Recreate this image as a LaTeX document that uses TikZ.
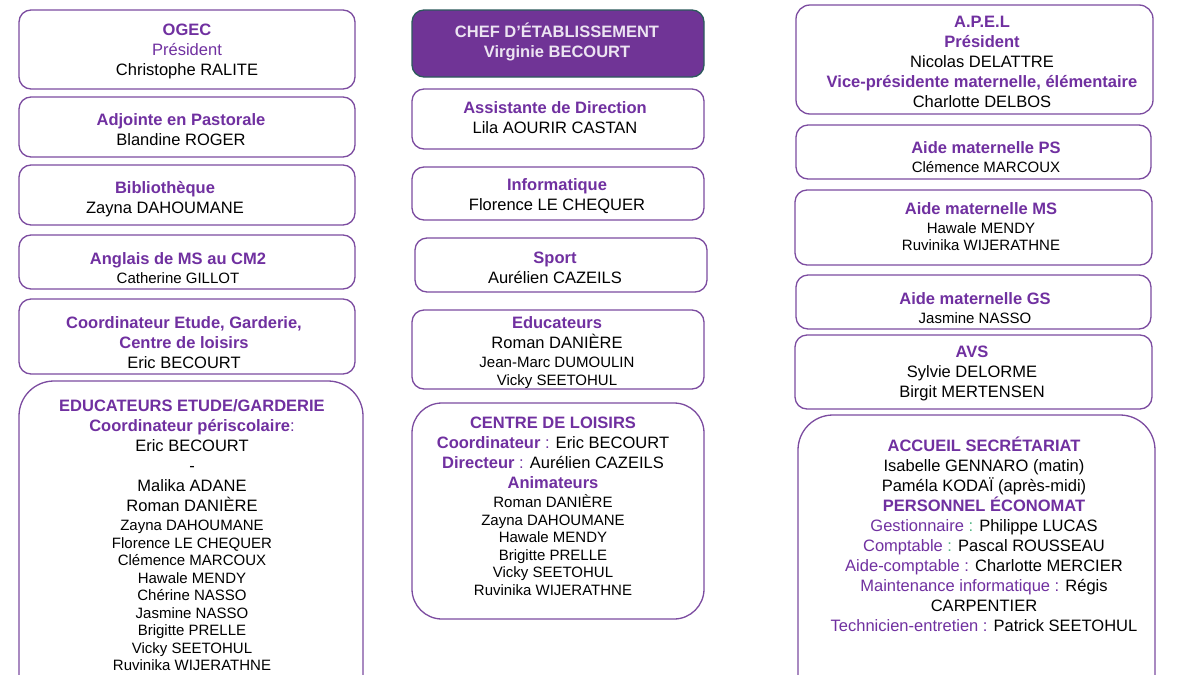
\documentclass[tikz,border=0pt]{standalone}
\usepackage{fontspec}
\setmainfont{Liberation Sans}
\usepackage{tikz}
\definecolor{violetorg}{RGB}{112,48,160}
\definecolor{bordviolet}{RGB}{124,76,160}
\definecolor{fondchef}{RGB}{112,52,150}
\definecolor{bordchef}{RGB}{44,90,92}
\definecolor{textechef}{RGB}{236,228,242}
\definecolor{vertpoint}{RGB}{80,180,130}
\tikzset{% styles of the chart
    cadre/.style={draw=bordviolet, line width=1.3pt, rounded corners=12pt},
    grandcadre/.style={draw=bordviolet, line width=1.3pt, rounded corners=35pt},
    texte/.style={align=center, inner sep=0pt, yshift=-1.5pt, font=\fontsize{16.5}{20}\selectfont}
}
\newcommand{\titre}[1]{\textbf{\color{violetorg}#1}}
\newcommand{\poste}[1]{{\color{violetorg}#1}}
\newcommand{\petit}[1]{{\fontsize{15}{17.5}\selectfont #1}}
\begin{document}
\begin{tikzpicture}[x=1pt,y=-1pt]
    		\useasboundingbox (0,0) rectangle (1200,675);
    		\fill[white] (0,0) rectangle (1200,675);

    		% left column

    		% frames
        	\draw[cadre] (19,10) rectangle (355,89);
        	\draw[cadre] (19,97) rectangle (355,157);
        	\draw[cadre] (19,165) rectangle (355,225);
        	\draw[cadre] (19,235) rectangle (355,289);
        	\draw[cadre] (19,299) rectangle (355,374);
        	\draw[grandcadre] (19,381) rectangle (363,720);

    		% texts
		    \node[texte] (ogec) at (187,50) {\titre{OGEC}\\ \poste{Président}\\ Christophe RALITE};
		    \node[texte] (pastorale) at (181,128) {\titre{Adjointe en Pastorale}\\ Blandine ROGER};
		    \node[texte] (biblio) at (165,198) {\titre{Bibliothèque}\\ Zayna DAHOUMANE};
		    \node[texte] (anglais) at (178,267) {\titre{Anglais de MS au CM2}\\[-1pt] \petit{Catherine GILLOT}};
		    \node[texte] (coordo) at (184,341) {\titre{Coordinateur Etude, Garderie,}\\ \titre{Centre de loisirs}\\ Eric BECOURT};
		    \node[texte] (etude) at (192,534) {\titre{EDUCATEURS ETUDE/GARDERIE}\\
		        \titre{Coordinateur périscolaire}\poste{:}\\ Eric BECOURT\\ -\\ Malika ADANE\\ Roman DANIÈRE\\[-1pt]
		        \petit{Zayna DAHOUMANE}\\[-2.5pt] \petit{Florence LE CHEQUER}\\[-2.5pt] \petit{Clémence MARCOUX}\\[-2.5pt]
		        \petit{Hawale MENDY}\\[-2.5pt] \petit{Chérine NASSO}\\[-2.5pt] \petit{Jasmine NASSO}\\[-2.5pt]
		        \petit{Brigitte PRELLE}\\[-2.5pt] \petit{Vicky SEETOHUL}\\[-2.5pt] \petit{Ruvinika WIJERATHNE}};

    		% middle column

    		% frames
        	\draw[cadre, fill=fondchef, draw=bordchef] (412,10) rectangle (704,77);
        	\draw[cadre] (412,89) rectangle (704,149);
        	\draw[cadre] (412,167) rectangle (704,220);
        	\draw[cadre] (415,238) rectangle (707,292);
        	\draw[cadre] (412,310) rectangle (704,389);
        	\draw[cadre, rounded corners=30pt] (412,403) rectangle (704,619);

    		% texts
		    \node[texte, text=textechef, font=\fontsize{16.5}{20}\selectfont\bfseries] (chef) at (557,40) {CHEF D’ÉTABLISSEMENT\\ Virginie BECOURT};
		    \node[texte] (assistante) at (555,116) {\titre{Assistante de Direction}\\ Lila AOURIR CASTAN};
		    \node[texte] (info) at (557,195) {\titre{Informatique}\\ Florence LE CHEQUER};
		    \node[texte] (sport) at (555,266) {\titre{Sport}\\ Aurélien CAZEILS};
		    \node[texte] (educ) at (557,351) {\titre{Educateurs}\\ Roman DANIÈRE\\[-1pt] \petit{Jean-Marc DUMOULIN}\\[-2.5pt] \petit{Vicky SEETOHUL}};
		    \node[texte] (loisirs) at (553,505) {\titre{CENTRE DE LOISIRS}\\
		        \titre{Coordinateur} \poste{:} Eric BECOURT\\ \titre{Directeur} \poste{:} Aurélien CAZEILS\\ \titre{Animateurs}\\[-1pt]
		        \petit{Roman DANIÈRE}\\[-2.5pt] \petit{Zayna DAHOUMANE}\\[-2.5pt] \petit{Hawale MENDY}\\[-2.5pt]
		        \petit{Brigitte PRELLE}\\[-2.5pt] \petit{Vicky SEETOHUL}\\[-2.5pt] \petit{Ruvinika WIJERATHNE}};

    		% right column

    		% frames
        	\draw[cadre, rounded corners=14pt] (796,5) rectangle (1153,114);
        	\draw[cadre] (796,125) rectangle (1151,179);
        	\draw[cadre] (795,190) rectangle (1152,265);
        	\draw[cadre] (796,275) rectangle (1151,329);
        	\draw[cadre] (795,335) rectangle (1152,409);
        	\draw[grandcadre] (798,415) rectangle (1155,720);

    		% texts
		    \node[texte] (apel) at (982,60) {\titre{A.P.E.L}\\ \titre{Président}\\ Nicolas DELATTRE\\ \titre{Vice-présidente maternelle, élémentaire}\\ Charlotte DELBOS};
		    \node[texte] (aideps) at (986,156) {\titre{Aide maternelle PS}\\[-1pt] \petit{Clémence MARCOUX}};
		    \node[texte] (aidems) at (981,225) {\titre{Aide maternelle MS}\\[-1pt] \petit{Hawale MENDY}\\[-2.5pt] \petit{Ruvinika WIJERATHNE}};
		    \node[texte] (aidegs) at (975,307) {\titre{Aide maternelle GS}\\[-1pt] \petit{Jasmine NASSO}};
		    \node[texte] (avs) at (972,372) {\titre{AVS}\\ Sylvie DELORME\\ Birgit MERTENSEN};
		    \node[texte] (accueil) at (984,533) {\titre{ACCUEIL SECRÉTARIAT}\\ Isabelle GENNARO (matin)\\ Paméla KODAÏ (après-midi)\\
		        \titre{PERSONNEL ÉCONOMAT}\\ \poste{Gestionnaire} \textcolor{vertpoint}{:} Philippe LUCAS\\
		        \poste{Comptable} \textcolor{vertpoint}{:} Pascal ROUSSEAU\\ \poste{Aide-comptable :} Charlotte MERCIER\\
		        \poste{Maintenance informatique :} Régis\\ CARPENTIER\\ \poste{Technicien-entretien :} Patrick SEETOHUL};

		\end{tikzpicture}
\end{document}
